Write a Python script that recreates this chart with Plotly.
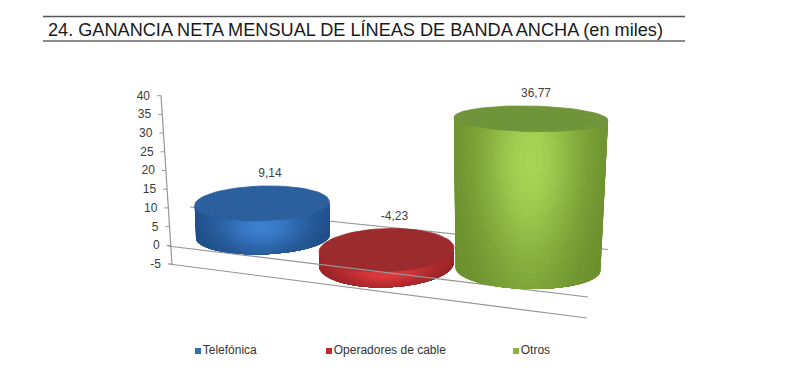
import math
import plotly.graph_objects as go

# ---- data ----
categories = ["Telefónica", "Operadores de cable", "Otros"]
values = [9.14, -4.23, 36.77]
value_labels = ["9,14", "-4,23", "36,77"]
tick_values = [40, 35, 30, 25, 20, 15, 10, 5, 0, -5]
title_text = "24. GANANCIA NETA MENSUAL DE LÍNEAS DE BANDA ANCHA (en miles)"

# ---- projection of each cylinder (layout, not data) ----
cx0 = [263, 386.5, 528]
cy0 = [236.5, 250, 269]
rx0 = [67, 67.5, 72.5]
ry0 = [17.8, 21.5, 20]
dcx = [-0.11, 0, 0.082]
drx = [0.03, 0, 0.122]
dry = [-0.055, -0.35, -0.196]
kpx = [3.63, 3.4, 4.085]
tilt = [-0.028, -0.028, 0.02]
dark = [(30, 76, 132), (150, 34, 38), (104, 140, 44)]
bright = [(60, 128, 208), (222, 58, 62), (168, 212, 84)]
top_col = ["#2B5F9E", "#9C2B2E", "#70943A"]
legend_col = ["#2F6EB5", "#C0292E", "#8DB33A"]
legend_x = [198, 329, 516]
label_dx = [8, 8, 5]

W, H = 788, 385
PX0, PXU = 245.3, 3.74


def y_of(px):
    return (PX0 - px) / PXU


def ellipse(i, v):
    return (cx0[i] + dcx[i] * v, cy0[i] - kpx[i] * v,
            rx0[i] + drx[i] * v, max(ry0[i] + dry[i] * v, 1))


def point(i, v, th):
    cx, cy, rx, ry = ellipse(i, v)
    dx = rx * math.cos(th)
    return cx + dx, cy + ry * math.sin(th) + tilt[i] * dx


def mix(a, b, t):
    return tuple(int(round(a[n] + (b[n] - a[n]) * t)) for n in range(3))


def shade(u, t):
    horizontal = math.exp(-(u / 0.68) ** 2)
    vertical = math.exp(-((t - 0.8) / 0.62) ** 2)
    return min(1, max(0, horizontal * (0.2 + 0.8 * vertical)))


fig = go.Figure()


def line(xs, ys, color="#969696", width=1.2):
    fig.add_trace(go.Scatter(x=xs, y=[y_of(p) for p in ys], mode="lines",
                             line=dict(color=color, width=width),
                             hoverinfo="skip", showlegend=False))


def cylinder(i):
    v = values[i]
    hi, lo = max(v, 0), min(v, 0)
    LEVELS, NTH, NT = 40, 90, 30
    # nested iso-brightness regions: each level paints everything at least that bright
    for lvl in range(LEVELS):
        xs, ys = [], []
        for a in range(NTH):
            th0 = math.pi * a / NTH
            th1 = math.pi * (a + 1) / NTH
            u = math.cos((th0 + th1) / 2)
            rows = [b for b in range(NT)
                    if lvl == 0 or round(shade(u, (b + 0.5) / NT) * (LEVELS - 1)) >= lvl]
            if not rows:
                continue
            v0 = lo + (hi - lo) * rows[0] / NT
            v1 = lo + (hi - lo) * (rows[-1] + 1) / NT
            pts = [point(i, v0, th0), point(i, v0, th1),
                   point(i, v1, th1), point(i, v1, th0), point(i, v0, th0)]
            xs += [round(p[0], 2) for p in pts] + [None]
            ys += [round(y_of(p[1]), 3) for p in pts] + [None]
        if not xs:
            continue
        c = "rgb(%d,%d,%d)" % mix(dark[i], bright[i], lvl / (LEVELS - 1))
        fig.add_trace(go.Scatter(x=xs, y=ys, mode="lines", fill="toself",
                                 fillcolor=c, line=dict(width=0),
                                 hoverinfo="skip", showlegend=False))
    ring = [point(i, hi, 2 * math.pi * n / 72) for n in range(73)]
    fig.add_trace(go.Scatter(x=[p[0] for p in ring], y=[y_of(p[1]) for p in ring],
                             mode="lines", fill="toself", fillcolor=top_col[i],
                             line=dict(color=top_col[i], width=0.8),
                             hoverinfo="skip", showlegend=False))


def axis_x(v):
    return 161 + (40 - v) * 11 / 45


# back edge of the floor, axis wall
line([190, 608], [207, 249.5])
line([axis_x(tick_values[0]), axis_x(tick_values[-1])],
     [PX0 - PXU * tick_values[0], PX0 - PXU * tick_values[-1]])
cylinder(0)
cylinder(1)
# front floor lines pass over the red cylinder
line([axis_x(0) - 3, 588], [246, 297])
line([axis_x(-5) - 3, 587], [264, 318])
cylinder(2)

# y axis ticks and tick labels
for tv in tick_values:
    ax = axis_x(tv)
    fig.add_trace(go.Scatter(x=[ax - 4, ax], y=[tv, tv], mode="lines",
                             line=dict(color="#969696", width=1),
                             hoverinfo="skip", showlegend=False))
fig.add_trace(go.Scatter(x=[axis_x(t) - 11 for t in tick_values], y=[t - 0.25 for t in tick_values],
                         mode="text", text=[str(t) for t in tick_values],
                         textposition="middle left",
                         textfont=dict(family="Liberation Sans", size=12, color="#3a3a3a"),
                         hoverinfo="skip", showlegend=False))

# value labels
for i in range(3):
    top = ellipse(i, max(values[i], 0))
    fig.add_trace(go.Scatter(x=[top[0] + label_dx[i]], y=[y_of(top[1] - top[3] - 12)],
                             mode="text", text=[value_labels[i]], textposition="middle center",
                             textfont=dict(family="Liberation Sans", size=12, color="#3f3f3f"),
                             hoverinfo="skip", showlegend=False))

# legend keys
for i in range(3):
    fig.add_trace(go.Scatter(x=[legend_x[i]], y=[y_of(351)], mode="markers+text",
                             marker=dict(symbol="square", size=6, color=legend_col[i]),
                             text=[categories[i]], textposition="middle right",
                             textfont=dict(family="Liberation Sans", size=12, color="#333333"),
                             hoverinfo="skip", showlegend=False))

fig.update_layout(
    width=W, height=H, autosize=False,
    margin=dict(l=0, r=0, t=0, b=0),
    paper_bgcolor="white", plot_bgcolor="white", showlegend=False,
    xaxis=dict(range=[0, W], visible=False, fixedrange=True),
    yaxis=dict(range=[y_of(H), y_of(0)], visible=False, fixedrange=True),
    shapes=[
        dict(type="line", xref="x", yref="paper", x0=43, x1=685, y0=1 - 16.5 / H, y1=1 - 16.5 / H,
             line=dict(color="#555555", width=1.5)),
        dict(type="line", xref="x", yref="paper", x0=43, x1=685, y0=1 - 41 / H, y1=1 - 41 / H,
             line=dict(color="#666666", width=1.5)),
    ],
    annotations=[dict(text=title_text, xref="x", yref="paper", x=46, y=1 - 30 / H,
                      xanchor="left", yanchor="middle", showarrow=False,
                      font=dict(family="Liberation Sans", size=18.15, color="#1a1a1a"))],
)
fig.write_html("out.html", config={"displayModeBar": False},
               post_script="document.body.style.margin='0';")
